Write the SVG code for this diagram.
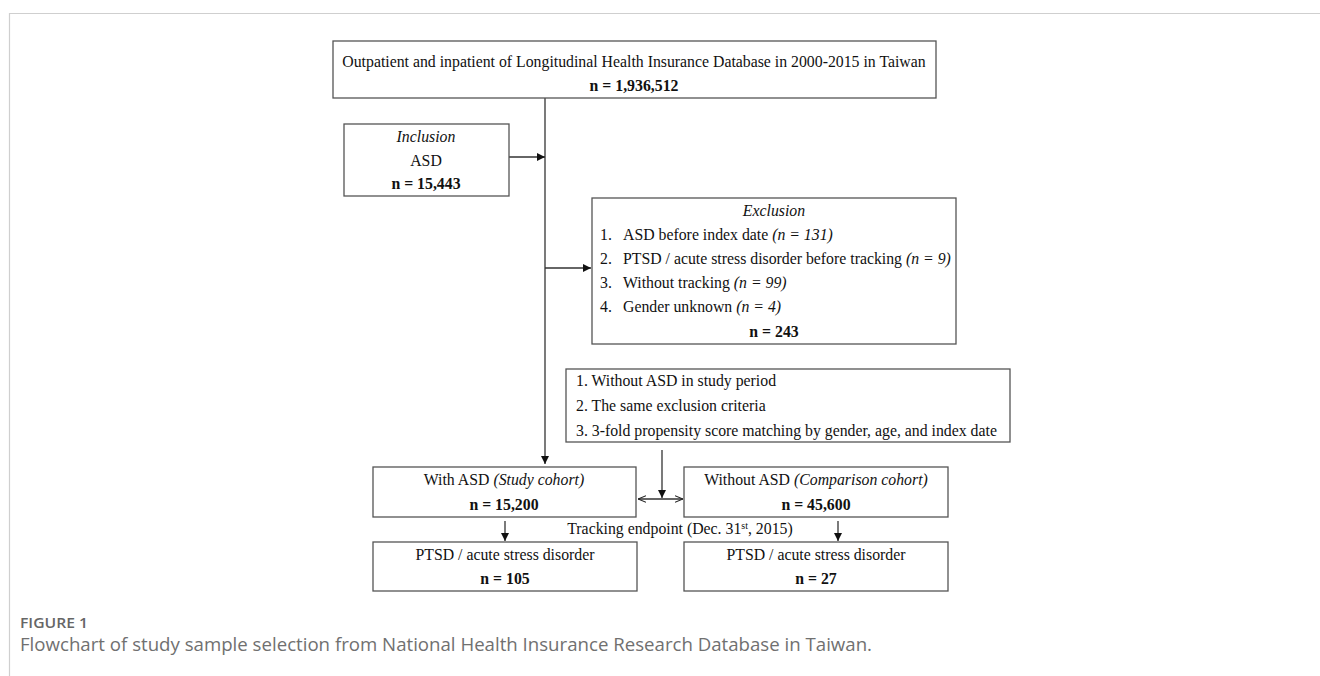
<svg xmlns="http://www.w3.org/2000/svg" width="1320" height="676" viewBox="0 0 1320 676">
<defs>
<style>
.box{fill:#fff;stroke:#555;stroke-width:1.3}
.t{font-family:"Liberation Serif","Times New Roman",serif;font-size:15.8px;fill:#111}
.c{text-anchor:middle}
.b{font-weight:bold}
.i{font-style:italic}
.ln{stroke:#333;stroke-width:1.3;fill:none}
.frame{stroke:#cfcfcf;stroke-width:1.2;fill:none}
</style>
<marker id="ah" viewBox="0 0 10 10" refX="10" refY="5" markerWidth="8" markerHeight="8" markerUnits="userSpaceOnUse" orient="auto"><path d="M0,0 L10,5 L0,10 z" fill="#111"/></marker>
<marker id="oh" viewBox="0 0 10 10" refX="10" refY="5" markerWidth="8" markerHeight="8" markerUnits="userSpaceOnUse" orient="auto-start-reverse"><path d="M0,1 L10,5 L0,9" fill="none" stroke="#222" stroke-width="1.3"/></marker>
</defs>
<rect width="1320" height="676" fill="#fff"/>
<path class="frame" d="M9.5,676 V13.5 H1320"/>

<g id="connectors">
<line class="ln" x1="545" y1="98" x2="545" y2="464" marker-end="url(#ah)"/>
<line class="ln" x1="509" y1="157" x2="545" y2="157" marker-end="url(#ah)"/>
<line class="ln" x1="545" y1="268" x2="591" y2="268" marker-end="url(#ah)"/>
<line class="ln" x1="662" y1="450" x2="662" y2="498" marker-end="url(#ah)"/>
<line class="ln" x1="638" y1="499" x2="683" y2="499" marker-start="url(#oh)" marker-end="url(#oh)"/>
<line class="ln" x1="505" y1="521" x2="505" y2="541" marker-end="url(#ah)"/>
<line class="ln" x1="838" y1="521" x2="838" y2="541" marker-end="url(#ah)"/>
</g>

<g id="source">
<rect class="box" x="333" y="41" width="603" height="57"/>
<text class="t c" x="634" y="67">Outpatient and inpatient of Longitudinal Health Insurance Database in 2000-2015 in Taiwan</text>
<text class="t c b" x="634" y="91">n = 1,936,512</text>
</g>

<g id="inclusion">
<rect class="box" x="344" y="124" width="165" height="72"/>
<text class="t c i" x="426" y="142">Inclusion</text>
<text class="t c" x="426" y="166">ASD</text>
<text class="t c b" x="426" y="189">n = 15,443</text>
</g>

<g id="exclusion">
<rect class="box" x="592" y="198" width="364" height="146"/>
<text class="t c i" x="774" y="216">Exclusion</text>
<text class="t" x="600" y="240">1.</text>
<text class="t" x="623" y="240">ASD before index date <tspan class="i">(n = 131)</tspan></text>
<text class="t" x="600" y="264">2.</text>
<text class="t" x="623" y="264">PTSD / acute stress disorder before tracking <tspan class="i">(n = 9)</tspan></text>
<text class="t" x="600" y="288">3.</text>
<text class="t" x="623" y="288">Without tracking <tspan class="i">(n = 99)</tspan></text>
<text class="t" x="600" y="312">4.</text>
<text class="t" x="623" y="312">Gender unknown <tspan class="i">(n = 4)</tspan></text>
<text class="t c b" x="774" y="337">n = 243</text>
</g>

<g id="criteria">
<rect class="box" x="566" y="369" width="444" height="73"/>
<text class="t" x="576" y="386">1. Without ASD in study period</text>
<text class="t" x="576" y="411">2. The same exclusion criteria</text>
<text class="t" x="576" y="436">3. 3-fold propensity score matching by gender, age, and index date</text>
</g>

<g id="study">
<rect class="box" x="373" y="467" width="263" height="50"/>
<text class="t c" x="504" y="485">With ASD <tspan class="i">(Study cohort)</tspan></text>
<text class="t c b" x="504" y="510">n = 15,200</text>
</g>

<g id="comparison">
<rect class="box" x="684" y="467" width="264" height="50"/>
<text class="t c" x="816" y="485">Without ASD <tspan class="i">(Comparison cohort)</tspan></text>
<text class="t c b" x="816" y="510">n = 45,600</text>
</g>

<text class="t c" x="680" y="534">Tracking endpoint (Dec. 31<tspan font-size="10" dy="-5">st</tspan><tspan dy="5">, 2015)</tspan></text>

<g id="ptsd-study">
<rect class="box" x="373" y="542" width="264" height="49"/>
<text class="t c" x="505" y="560">PTSD / acute stress disorder</text>
<text class="t c b" x="505" y="584">n = 105</text>
</g>

<g id="ptsd-comparison">
<rect class="box" x="684" y="542" width="264" height="49"/>
<text class="t c" x="816" y="560">PTSD / acute stress disorder</text>
<text class="t c b" x="816" y="584">n = 27</text>
</g>

<text x="20" y="628" font-family="'Open Sans','Noto Sans',sans-serif" font-size="14" font-weight="600" fill="#666" textLength="68" lengthAdjust="spacingAndGlyphs">FIGURE 1</text>
<text x="20" y="651" font-family="'Open Sans','Noto Sans',sans-serif" font-size="18.5" fill="#707070" textLength="852" lengthAdjust="spacingAndGlyphs">Flowchart of study sample selection from National Health Insurance Research Database in Taiwan.</text>
</svg>
